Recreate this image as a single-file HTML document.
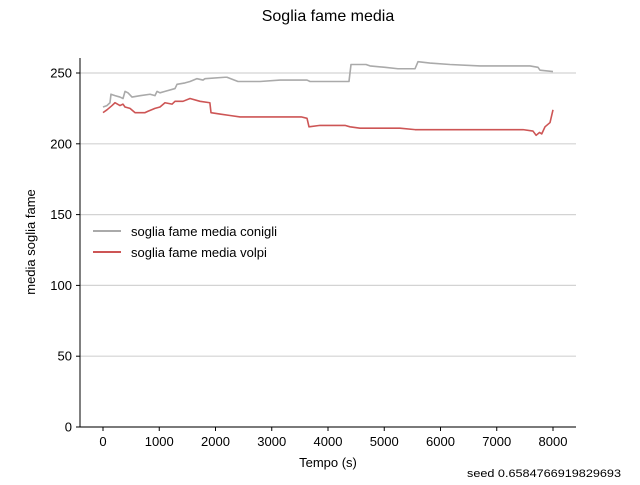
<!DOCTYPE html>
<html><head><meta charset="utf-8"><style>
body{margin:0;background:#fff}
svg{font-family:"Liberation Sans","DejaVu Sans",sans-serif}
</style></head><body>
<svg id="chart" width="640" height="480" viewBox="0 0 640 480">
<text x="328" y="21" text-anchor="middle" font-size="16">Soglia fame media</text>
<g id="grid"></g>
<g id="series"></g>
<g id="axes"></g>
<text x="328" y="467" text-anchor="middle" font-size="13">Tempo (s)</text>
<text transform="translate(35,242) rotate(-90)" text-anchor="middle" font-size="13">media soglia fame</text>
<g>
<g><line x1="93" y1="231" x2="121" y2="231" stroke="#aaaaaa" stroke-width="2"/><text x="131" y="236" font-size="13">soglia fame media conigli</text></g>
<g><line x1="93" y1="252" x2="121" y2="252" stroke="#cd5555" stroke-width="2"/><text x="131" y="257" font-size="13">soglia fame media volpi</text></g>
</g>
<text x="467" y="477" font-size="11" textLength="154" lengthAdjust="spacingAndGlyphs">seed 0.6584766919829693</text>
</svg>
<script>
const xTicks=[0,1000,2000,3000,4000,5000,6000,7000,8000];
const yTicks=[0,50,100,150,200,250];
const conigliT=[0,70,124,142,213,302,356,391,444,516,658,836,924,960,1013,1102,1280,1316,1458,1547,1671,1778,1813,2169,2204,2400,2613,2791,3147,3324,3627,3680,3858,4213,4373,4409,4676,4747,5013,5244,5547,5600,5813,6169,6702,7591,7733,7769,8000];
const conigliV=[226,227,229,235,234,233,232,237,236,233,234,235,234,237,236,237,239,242,243,244,246,245,246,247,247,244,244,244,245,245,245,244,244,244,244,256,256,255,254,253,253,258,257,256,255,255,254,252,251];
const volpiT=[0,71,160,213,302,356,391,480,569,747,800,924,1013,1102,1227,1280,1422,1547,1724,1900,1920,2080,2258,2436,2613,2791,3147,3524,3627,3662,3858,4302,4391,4569,4924,5280,5547,5636,6169,6524,6880,7467,7644,7700,7760,7800,7858,7947,8000];
const volpiV=[222,224,227,229,227,228,226,225,222,222,223,225,226,229,228,230,230,232,230,229,222,221,220,219,219,219,219,219,218,212,213,213,212,211,211,211,210,210,210,210,210,210,209,206,208,207,212,215,224];
const X=t=>103+t*0.05625, Y=v=>427-v*1.416;
const NS="http://www.w3.org/2000/svg";
function mk(tag,attrs,parent){const e=document.createElementNS(NS,tag);for(const k in attrs)e.setAttribute(k,attrs[k]);parent.appendChild(e);return e;}
const grid=document.getElementById('grid'),axes=document.getElementById('axes'),ser=document.getElementById('series');
yTicks.forEach(v=>{
 const g=mk('line',{x1:80,x2:576,y1:Y(v),y2:Y(v),stroke:'#d3d3d3','stroke-width':1.2},grid);
 
 
 mk('line',{x1:76,x2:80,y1:Y(v),y2:Y(v),stroke:'#000'},axes);
 const t=mk('text',{x:72,y:Y(v)+4.5,'text-anchor':'end','font-size':13},axes);t.textContent=v;
 
 
});
xTicks.forEach(v=>{
 mk('line',{x1:X(v),x2:X(v),y1:427,y2:431,stroke:'#000'},axes);
 const t=mk('text',{x:X(v),y:446,'text-anchor':'middle','font-size':13},axes);t.textContent=v;
 
 
});
mk('line',{x1:80,x2:80,y1:58,y2:427,stroke:'#000'},axes);
mk('line',{x1:80,x2:576,y1:427,y2:427,stroke:'#000'},axes);
function line(T,V,c,name){
 const p=mk('polyline',{points:T.map((t,i)=>X(t)+','+Y(V[i])).join(' '),fill:'none',stroke:c,'stroke-width':1.6,'stroke-linejoin':'round'},ser);
 
 
}
line(conigliT,conigliV,'#aaaaaa','line-conigli');
line(volpiT,volpiV,'#cd5555','line-volpi');
</script>
</body></html>
